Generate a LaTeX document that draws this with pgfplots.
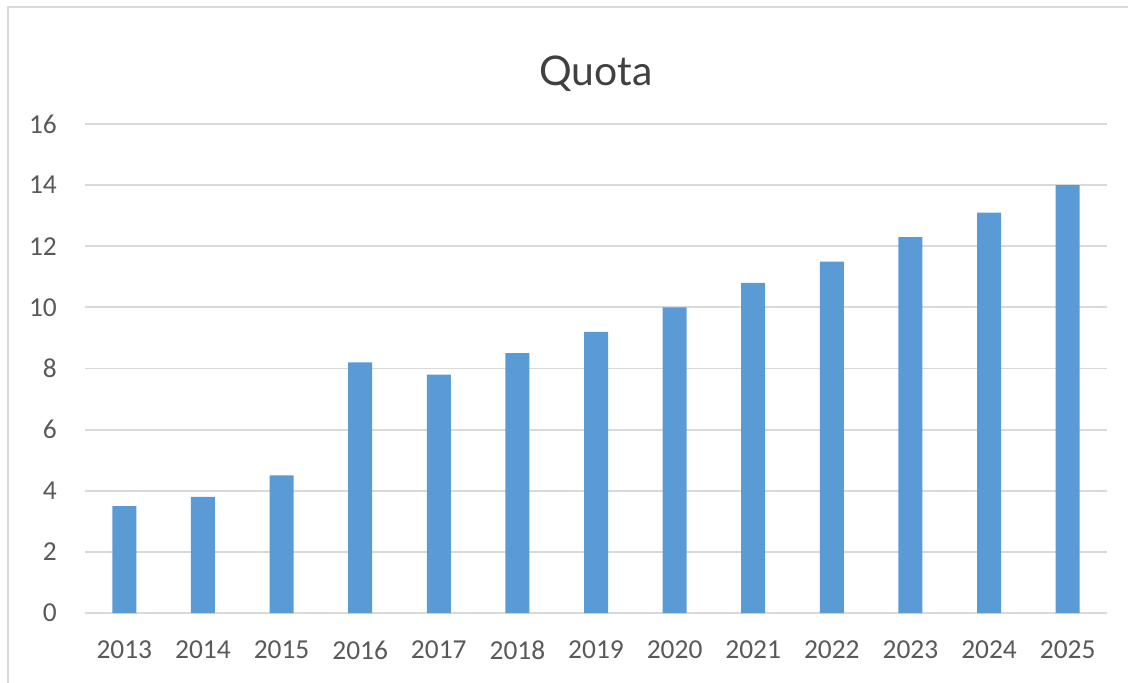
\documentclass[border=0pt]{standalone}
\usepackage{pgfplots}
\pgfplotsset{compat=1.18}
\usepackage{fontspec}
\setmainfont{Carlito}
\newfontfamily\titlefont{Lato}
\definecolor{barblue}{HTML}{5B9BD5}
\definecolor{gridgray}{HTML}{D9D9D9}
\definecolor{ticktext}{HTML}{595959}
\definecolor{titletext}{HTML}{404040}
\begin{document}
\begin{tikzpicture}
\useasboundingbox (0,0) rectangle (1128bp,683bp);
\draw[gridgray, line width=2bp] (8bp,0) -- (8bp,676bp) -- (1128bp,676bp);
\node[font=\titlefont\fontsize{41}{41}\selectfont, text=titletext] at (596bp,609bp) {Quota};
\begin{axis}[
  at={(85bp,70bp)}, anchor=south west,
  scale only axis, width=1022bp, height=489bp,
  ymin=0, ymax=16, ytick={0,2,...,16},
  xmin=-0.5, xmax=12.5, xtick={0,...,12},
  xticklabels={2013,2014,2015,2016,2017,2018,2019,2020,2021,2022,2023,2024,2025},
  axis line style={draw=none},
  major tick length=0pt,
  tick style={draw=none},
  ymajorgrids, grid style={gridgray, line width=1.8bp},
  ybar, bar width=24bp,
  tick label style={font=\fontsize{27.5}{27.5}\selectfont, text=ticktext},
  /pgf/number format/assume math mode=true,
  yticklabel style={anchor=east, inner sep=0pt, xshift=-28bp},
  xticklabel style={anchor=north, inner sep=0pt, yshift=-28bp},
  clip=false,
]
\addplot[fill=barblue, draw=none] coordinates {
(0,3.5) (1,3.8) (2,4.5) (3,8.2) (4,7.8) (5,8.5) (6,9.2) (7,10) (8,10.8) (9,11.5) (10,12.3) (11,13.1) (12,14)
};
\end{axis}
\end{tikzpicture}
\end{document}
